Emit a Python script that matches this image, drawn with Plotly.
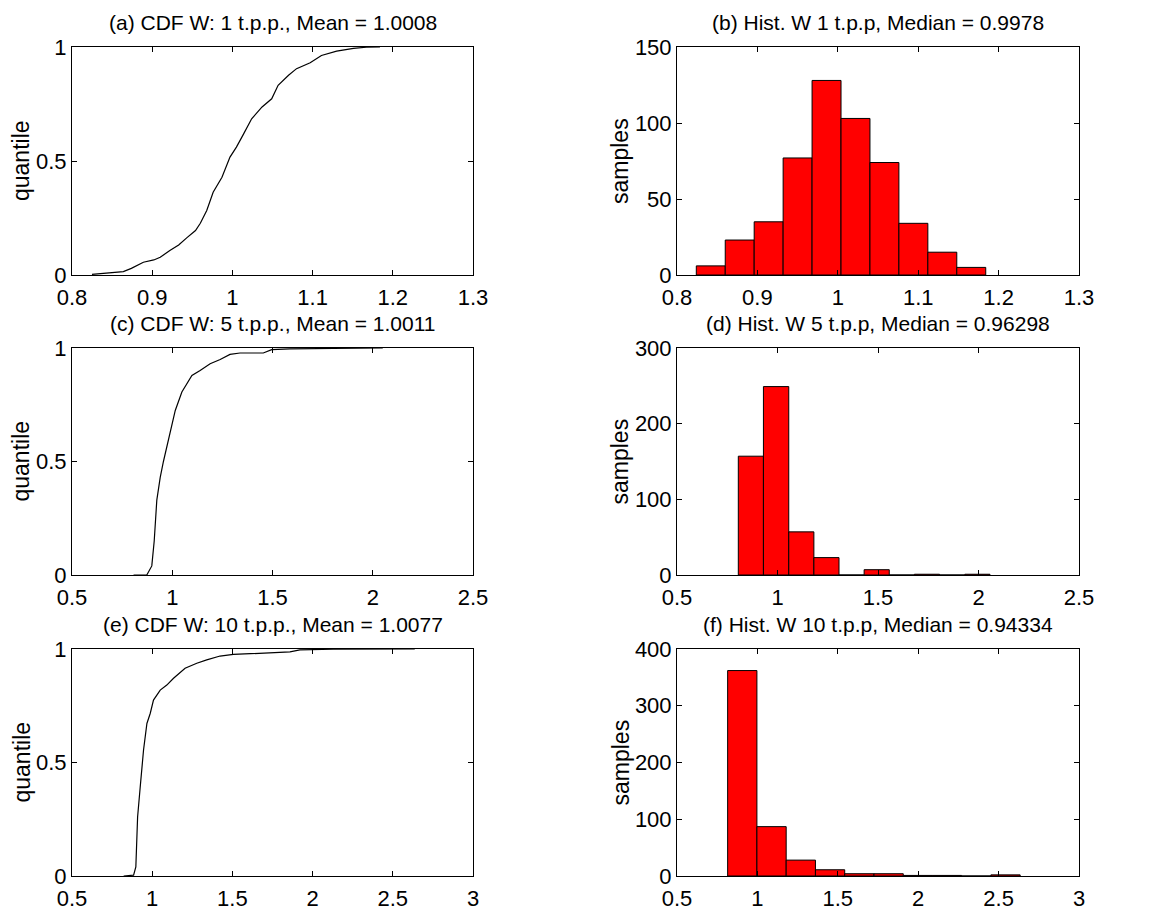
import plotly.graph_objects as go
import numpy as np

# ---------------- data ----------------
# (a) CDF, 1 t.p.p.
cdf_a_x = [0.8249, 0.864, 0.874, 0.889, 0.902, 0.910, 0.922, 0.933, 0.943, 0.954,
           0.960, 0.968, 0.976, 0.987, 0.997, 1.005, 1.014, 1.024, 1.037, 1.049,
           1.057, 1.070, 1.080, 1.097, 1.111, 1.130, 1.151, 1.167, 1.184]
cdf_a_y = [0.003, 0.015, 0.029, 0.056, 0.066, 0.078, 0.107, 0.132, 0.163, 0.195,
           0.227, 0.283, 0.363, 0.429, 0.517, 0.561, 0.619, 0.685, 0.737, 0.773,
           0.832, 0.876, 0.905, 0.931, 0.963, 0.982, 0.994, 0.999, 1.0]

# (c) CDF, 5 t.p.p.
cdf_c_x = [0.807, 0.873, 0.898, 0.910, 0.923, 0.940, 0.956, 0.981, 1.015, 1.048,
           1.098, 1.139, 1.189, 1.239, 1.288, 1.338, 1.454, 1.496, 1.587, 1.803, 2.05]
cdf_c_y = [0.0, 0.0, 0.04, 0.15, 0.33, 0.43, 0.50, 0.59, 0.725, 0.806,
           0.879, 0.901, 0.931, 0.949, 0.972, 0.978, 0.978, 0.993, 0.996, 0.998, 1.0]

# (e) CDF, 10 t.p.p.
cdf_e_x = [0.822, 0.884, 0.898, 0.909, 0.925, 0.946, 0.967, 0.988, 1.008, 1.050,
           1.091, 1.133, 1.205, 1.278, 1.340, 1.423, 1.506, 1.859, 1.921, 2.129, 2.637]
cdf_e_y = [0.0, 0.004, 0.04, 0.26, 0.39, 0.555, 0.672, 0.717, 0.775, 0.819,
           0.841, 0.871, 0.915, 0.937, 0.952, 0.969, 0.976, 0.987, 0.996, 0.999, 1.0]

# (b) histogram, 1 t.p.p.
hist_b_edges = [0.824, 0.860, 0.896, 0.932, 0.968, 1.004, 1.040, 1.076, 1.112, 1.148, 1.184]
hist_b_counts = [6, 23, 35, 77, 128, 103, 74, 34, 15, 5]

# (d) histogram, 5 t.p.p.
hist_d_edges = [0.805, 0.930, 1.056, 1.181, 1.306, 1.431, 1.556, 1.681, 1.806, 1.932, 2.057]
hist_d_counts = [157, 249, 57, 23, 0, 7, 0, 1, 0, 1]

# (f) histogram, 10 t.p.p.
hist_f_edges = [0.815, 0.997, 1.179, 1.361, 1.543, 1.725, 1.907, 2.088, 2.270, 2.452, 2.634]
hist_f_counts = [362, 87, 28, 11, 4, 4, 1, 1, 0, 2]

titles = [
    "(a) CDF W: 1 t.p.p., Mean = 1.0008",
    "(b) Hist. W 1 t.p.p, Median = 0.9978",
    "(c) CDF W: 5 t.p.p., Mean = 1.0011",
    "(d) Hist. W 5 t.p.p, Median = 0.96298",
    "(e) CDF W: 10 t.p.p., Mean = 1.0077",
    "(f) Hist. W 10 t.p.p, Median = 0.94334",
]

x_ticks_row = [
    ([0.8, 0.9, 1.0, 1.1, 1.2, 1.3], ["0.8", "0.9", "1", "1.1", "1.2", "1.3"]),
    ([0.5, 1.0, 1.5, 2.0, 2.5], ["0.5", "1", "1.5", "2", "2.5"]),
    ([0.5, 1.0, 1.5, 2.0, 2.5, 3.0], ["0.5", "1", "1.5", "2", "2.5", "3"]),
]
cdf_y_ticks = ([0, 0.5, 1], ["0", "0.5", "1"])
hist_y_ticks = [
    ([0, 50, 100, 150], ["0", "50", "100", "150"]),
    ([0, 100, 200, 300], ["0", "100", "200", "300"]),
    ([0, 100, 200, 300, 400], ["0", "100", "200", "300", "400"]),
]

# ---------------- layout geometry ----------------
W, H = 1154, 912
col_px = [(72, 473), (677, 1079)]
row_px = [(47, 275), (348, 575), (649, 876)]
FONT = "Liberation Sans, Arial, Helvetica, sans-serif"

fig = go.Figure()
layout = dict(
    width=W, height=H,
    margin=dict(l=0, r=0, t=0, b=0, pad=0),
    paper_bgcolor="white", plot_bgcolor="white",
    showlegend=False,
    font=dict(family=FONT, color="black"),
)
annotations = []

cdf_data = [(cdf_a_x, cdf_a_y), (cdf_c_x, cdf_c_y), (cdf_e_x, cdf_e_y)]
hist_data = [(hist_b_edges, hist_b_counts), (hist_d_edges, hist_d_counts),
             (hist_f_edges, hist_f_counts)]

def axis_common():
    return dict(showline=True, linecolor="black", linewidth=1, mirror="allticks",
                ticks="inside", ticklen=5, tickwidth=1, tickcolor="black",
                showgrid=False, zeroline=False, tickmode="array", automargin=False,
                tickfont=dict(family=FONT, size=22, color="black"))

idx = 0
for r in range(3):
    for c in range(2):
        idx += 1
        xa = "x" if idx == 1 else f"x{idx}"
        ya = "y" if idx == 1 else f"y{idx}"
        xkey = "xaxis" if idx == 1 else f"xaxis{idx}"
        ykey = "yaxis" if idx == 1 else f"yaxis{idx}"
        x0, x1 = col_px[c]
        t0, t1 = row_px[r]
        xdom = [x0 / W, x1 / W]
        ydom = [1 - t1 / H, 1 - t0 / H]
        xt = x_ticks_row[r]
        xvals = xt[0]
        xax = axis_common()
        xax.update(domain=xdom, anchor=ya, range=[xvals[0], xvals[-1]],
                   tickvals=xvals, ticktext=xt[1], ticklabelstandoff=3)
        yax = axis_common()
        if c == 0:
            cx, cy = cdf_data[r]
            fig.add_trace(go.Scatter(x=cx, y=cy, mode="lines", xaxis=xa, yaxis=ya,
                                     line=dict(color="black", width=1.2)))
            yax.update(domain=ydom, anchor=xa, range=[0, 1],
                       tickvals=cdf_y_ticks[0], ticktext=cdf_y_ticks[1])
            ylabel = "quantile"
            lab_x = 21
        else:
            edges, counts = hist_data[r]
            e = np.array(edges)
            centers = (e[:-1] + e[1:]) / 2
            widths = np.diff(e)
            fig.add_trace(go.Bar(x=centers, y=counts, width=widths, xaxis=xa, yaxis=ya,
                                 marker=dict(color="#ff0000",
                                             line=dict(color="black", width=1))))
            yt = hist_y_ticks[r]
            yax.update(domain=ydom, anchor=xa, range=[yt[0][0], yt[0][-1]],
                       tickvals=yt[0], ticktext=yt[1])
            ylabel = "samples"
            lab_x = 620
        layout[xkey] = xax
        layout[ykey] = yax
        # panel title
        annotations.append(dict(text=titles[idx - 1], xref="paper", yref="paper",
                                x=(x0 + x1) / 2 / W, y=1 - (t0 - 25) / H,
                                xanchor="center", yanchor="middle", showarrow=False,
                                font=dict(family=FONT, size=21, color="black")))
        # y-axis label
        annotations.append(dict(text=ylabel, xref="paper", yref="paper",
                                x=lab_x / W, y=1 - (t0 + t1) / 2 / H, textangle=-90,
                                xanchor="center", yanchor="middle", showarrow=False,
                                font=dict(family=FONT, size=23, color="black")))

layout["annotations"] = annotations
layout["bargap"] = 0
layout["hovermode"] = False
fig.update_layout(**layout)
fig.write_html("out.html",
               config={"displayModeBar": False, "staticPlot": True},
               post_script="document.body.style.margin='0';document.body.style.overflow='hidden';")
